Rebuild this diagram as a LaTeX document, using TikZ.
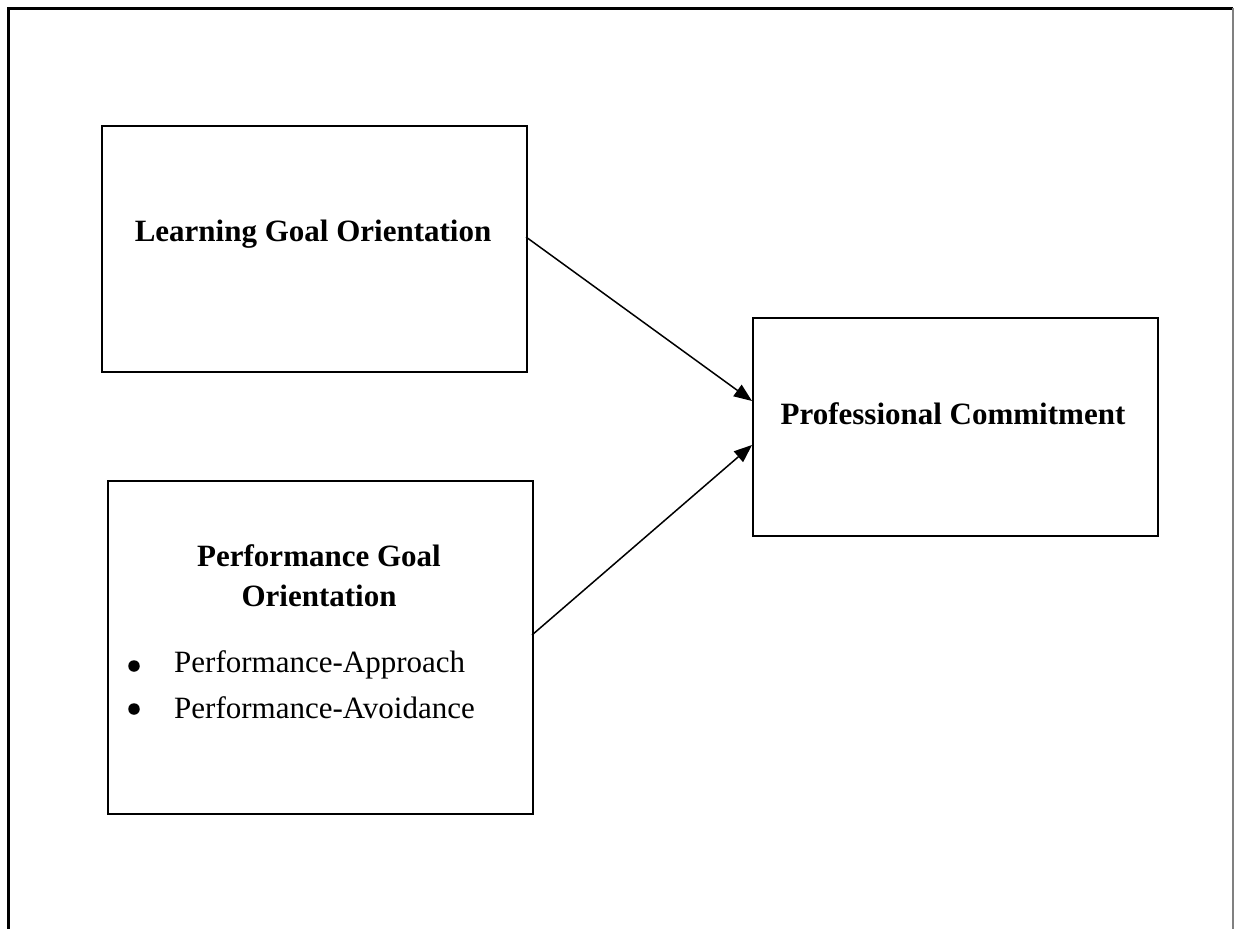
\documentclass[tikz,border=0pt]{standalone}
\usepackage{fontspec}
\setmainfont{Liberation Serif}
\usetikzlibrary{arrows.meta}
\tikzset{
  box/.style={draw, line width=1.6pt, inner sep=0pt, anchor=north west},
  bold/.style={font=\fontsize{31}{40}\selectfont\bfseries, inner sep=0pt},
  plain/.style={font=\fontsize{31}{40}\selectfont, inner sep=0pt, anchor=west},
  dot/.style={circle, fill, inner sep=0pt, minimum size=11.5pt},
  conn/.style={line width=1.5pt, -{Triangle[length=18pt,width=14pt]}},
}
\begin{document}
\begin{tikzpicture}[x=1pt,y=-1pt]
\useasboundingbox (0,0) rectangle (1235,929);
% outer frame
\draw[line width=3pt] (8,929) -- (8,8) -- (1233,8);
\draw[line width=1.3pt, gray] (1233,8) -- (1233,929);
% boxes
\node[box, minimum width=425pt, minimum height=246pt] (lgo) at (101,125) {};
\node[box, minimum width=425pt, minimum height=333pt] (pgo) at (107,480) {};
\node[box, minimum width=405pt, minimum height=218pt] (pc) at (752,317) {};
% texts
\node[bold] (t1) at (313,234) {Learning Goal Orientation};
\node[bold] (t2) at (319,556) {Performance Goal};
\node[bold] (t3) at (319,596) {Orientation};
\node[dot] (b1) at (134,666) {};
\node[dot] (b2) at (134,709) {};
\node[plain] (i1) at (174,665) {Performance-Approach};
\node[plain] (i2) at (174,708) {Performance-Avoidance};
\node[bold] (t4) at (953,414) {Professional Commitment};
% connectors
\coordinate (s1) at (526,237);
\coordinate (e1) at (752,401);
\coordinate (s2) at (532,635);
\coordinate (e2) at (752,445);
\draw[conn] (s1) -- (e1);
\draw[conn] (s2) -- (e2);
\end{tikzpicture}
\end{document}
